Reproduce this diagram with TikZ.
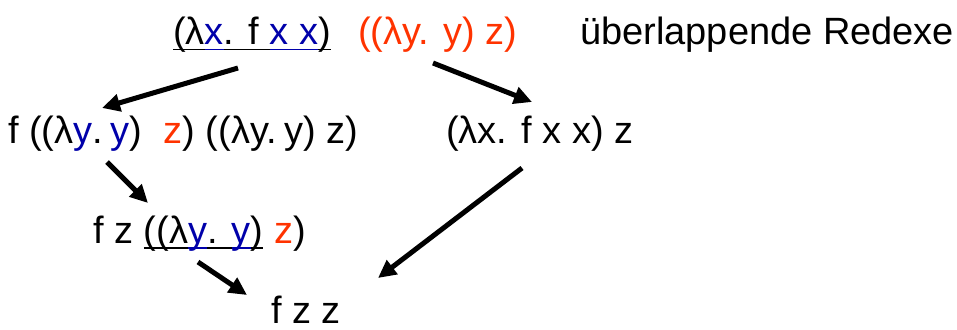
\documentclass[tikz,border=0pt]{standalone}
\usepackage{fontspec}
\setmainfont{Liberation Sans}
\usetikzlibrary{arrows.meta}
\definecolor{lblue}{RGB}{0,0,170}
\definecolor{lred}{RGB}{255,51,0}
\newcommand\myul[1]{\setbox0\hbox{#1}\rlap{\rule[-5.5pt]{\wd0}{1.8pt}}\box0\relax}
\newcommand\bl[1]{\textcolor{lblue}{#1}}
\newcommand\rd[1]{\textcolor{lred}{#1}}
\tikzset{
  term/.style={anchor=base west, inner sep=0pt, font=\fontsize{38}{40}\selectfont},
  redstep/.style={line width=5pt, -{Triangle[length=18pt,width=17pt]}}
}
\begin{document}
\begin{tikzpicture}[x=1pt,y=-1pt]
\useasboundingbox (0,0) rectangle (957,329);
\node[term] (t0) at (173,45) {\myul{(λ}\bl{\myul{x}}\myul{. f }\bl{\myul{x x}}\myul{)}};
\node[term] (t0r) at (358,45) {\rd{((λy. y) z)}};
\node[term] (lbl) at (580,45) {überlappende Redexe};
\node[term] (t1) at (8,143) {f ((λ\bl{y}.\hspace{0.2em}\bl{y})\ \ \rd{z}) ((λy.\hspace{0.2em}y) z)};
\node[term] (t2) at (446,143) {(λx. f x x) z};
\node[term] (t3) at (93,243) {f z \myul{((λ}\bl{\myul{y}}\myul{. }\bl{\myul{y}}\myul{)} \rd{z})};
\node[term] (t4) at (271,323) {f z z};
\draw[redstep] ([shift={(65,23)}]t0.base west) -- ([shift={(94,-35)}]t1.base west);
\draw[redstep] ([shift={(75,18)}]t0r.base west) -- ([shift={(86,-41)}]t2.base west);
\draw[redstep] ([shift={(99,19)}]t1.base west) -- ([shift={(55,-40)}]t3.base west);
\draw[redstep] ([shift={(105,19)}]t3.base west) -- ([shift={(-24,-28)}]t4.base west);
\draw[redstep] ([shift={(76,25)}]t2.base west) -- ([shift={(107,-45)}]t4.base west);
\end{tikzpicture}
\end{document}
